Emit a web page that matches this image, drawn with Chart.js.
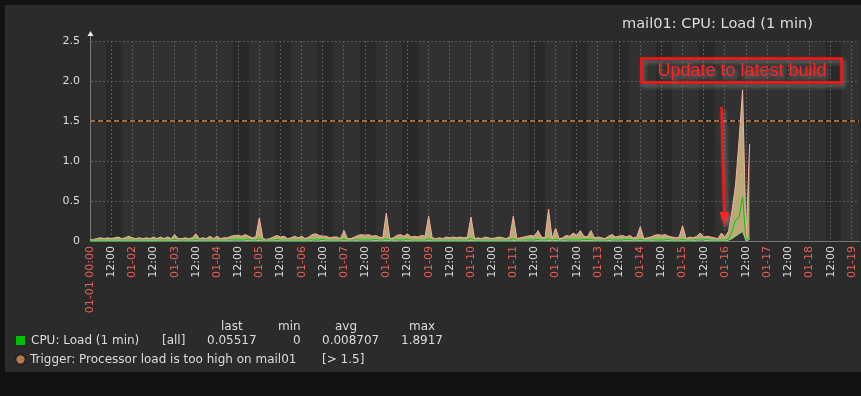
<!DOCTYPE html>
<html lang="en">
<head>
    <meta charset="UTF-8" />
    <title>mail01: CPU: Load (1 min)</title>
    <script src="https://cdn.jsdelivr.net/npm/chart.js"></script>
    <style>
        html, body { margin: 0; padding: 0; background: #111214; }
        #wrap { width: 861px; height: 396px; }
    </style>
</head>
<body>
    <div id="wrap"><canvas id="loadChart" width="861" height="396"></canvas></div>

    <script>
        // one sample every 2 hours starting 01-01 00:00
        const STEP_HOURS = 2;

        const maxLoad = [
            0.02,0.02,0.03,0.04,0.03,0.04,0.03,0.04,0.05,0.03,0.04,0.06,
            0.04,0.03,0.04,0.03,0.04,0.03,0.05,0.03,0.05,0.03,0.05,0.03,
            0.08,0.03,0.03,0.04,0.03,0.04,0.09,0.03,0.04,0.03,0.06,0.03,
            0.06,0.03,0.04,0.04,0.06,0.07,0.07,0.06,0.08,0.06,0.04,0.05,
            0.29,0.03,0.02,0.03,0.05,0.07,0.05,0.06,0.03,0.04,0.06,0.04,
            0.06,0.03,0.05,0.08,0.09,0.07,0.06,0.06,0.04,0.05,0.05,0.03,
            0.13,0.03,0.03,0.05,0.07,0.08,0.07,0.08,0.06,0.07,0.05,0.04,
            0.35,0.03,0.04,0.07,0.08,0.06,0.09,0.05,0.06,0.05,0.07,0.06,
            0.31,0.04,0.03,0.04,0.03,0.05,0.04,0.05,0.04,0.05,0.04,0.05,
            0.30,0.03,0.04,0.03,0.05,0.04,0.03,0.04,0.05,0.04,0.03,0.05,
            0.31,0.03,0.04,0.05,0.06,0.07,0.06,0.13,0.05,0.04,0.40,0.03,
            0.16,0.03,0.04,0.07,0.06,0.10,0.07,0.13,0.06,0.05,0.13,0.04,
            0.05,0.04,0.03,0.06,0.08,0.05,0.06,0.07,0.05,0.07,0.04,0.05,
            0.18,0.03,0.04,0.05,0.07,0.08,0.07,0.08,0.06,0.05,0.04,0.05,
            0.19,0.03,0.05,0.04,0.06,0.10,0.05,0.06,0.05,0.04,0.03,0.10,
            0.05,0.12,0.38,0.70,1.26,1.89,0.03,1.21
        ];

        const avgLoad = [
            0.01,0.01,0.01,0.01,0.01,0.01,0.01,0.01,0.01,0.01,0.01,0.01,
            0.01,0.01,0.01,0.01,0.01,0.01,0.01,0.01,0.01,0.01,0.01,0.01,
            0.02,0.01,0.01,0.01,0.01,0.01,0.02,0.01,0.01,0.01,0.01,0.01,
            0.01,0.01,0.01,0.01,0.02,0.02,0.02,0.02,0.02,0.02,0.01,0.01,
            0.03,0.01,0.01,0.01,0.01,0.02,0.01,0.01,0.01,0.01,0.01,0.01,
            0.01,0.01,0.01,0.02,0.02,0.02,0.02,0.01,0.01,0.01,0.01,0.01,
            0.02,0.01,0.01,0.01,0.02,0.02,0.02,0.02,0.02,0.02,0.01,0.01,
            0.03,0.01,0.01,0.02,0.02,0.02,0.02,0.01,0.01,0.01,0.01,0.01,
            0.03,0.01,0.01,0.01,0.01,0.01,0.01,0.01,0.01,0.01,0.01,0.01,
            0.03,0.01,0.01,0.01,0.01,0.01,0.01,0.01,0.01,0.01,0.01,0.01,
            0.03,0.01,0.01,0.01,0.02,0.02,0.02,0.02,0.01,0.01,0.03,0.01,
            0.02,0.01,0.01,0.02,0.02,0.02,0.02,0.02,0.02,0.02,0.02,0.01,
            0.01,0.01,0.01,0.02,0.02,0.02,0.02,0.02,0.02,0.02,0.01,0.01,
            0.02,0.01,0.01,0.01,0.02,0.02,0.02,0.02,0.02,0.01,0.01,0.01,
            0.02,0.01,0.01,0.01,0.02,0.02,0.02,0.02,0.01,0.01,0.01,0.01,
            0.01,0.02,0.12,0.26,0.30,0.55,0.01,0.03
        ];

        const minLoad = [
            0,0,0,0,0,0,0,0,0,0,0,0,
            0,0,0,0,0,0,0,0,0,0,0,0,
            0,0,0,0,0,0,0,0,0,0,0,0,
            0,0,0,0,0.01,0.01,0.01,0.01,0.01,0,0,0,
            0,0,0,0,0,0,0,0,0,0,0,0,
            0,0,0,0.01,0.01,0.01,0,0,0,0,0,0,
            0,0,0,0,0.01,0.01,0.01,0.01,0.01,0,0,0,
            0,0,0,0.01,0.01,0.01,0,0,0,0,0,0,
            0,0,0,0,0,0,0,0,0,0,0,0,
            0,0,0,0,0,0,0,0,0,0,0,0,
            0,0,0,0,0.01,0.01,0.01,0,0,0,0,0,
            0,0,0,0.01,0.01,0.01,0.01,0.01,0,0,0,0,
            0,0,0,0,0.01,0.01,0.01,0.01,0,0,0,0,
            0,0,0,0,0.01,0.01,0.01,0.01,0,0,0,0,
            0,0,0,0,0.01,0.01,0.01,0,0,0,0,0,
            0,0.01,0.03,0.06,0.09,0.12,0,0.02
        ];

        const triggerLevel = 1.5;
        const dayLabels = [
            '01-01 00:00','01-02','01-03','01-04','01-05','01-06','01-07','01-08','01-09','01-10',
            '01-11','01-12','01-13','01-14','01-15','01-16','01-17','01-18','01-19'
        ];
        // working days (9:00-18:00 shaded darker)
        const workDays = [1, 4, 5, 6, 7, 8, 11, 12, 13, 14, 15, 18];
        const workStart = 9, workEnd = 18;
        const xMaxHours = 436;

        const statHeaders = ['last', 'min', 'avg', 'max'];
        const statValues = ['0.05517', '0', '0.008707', '1.8917'];

        const toPoints = arr => arr.map((v, i) => ({ x: i * STEP_HOURS, y: v }));

        const FONT = '"DejaVu Sans", sans-serif';
        const TEXT = '#dcdcdc';

        const panelPlugin = {
            id: 'panel',
            beforeDraw(chart) {
                const { ctx, chartArea: a } = chart;
                const x = chart.scales.x;
                ctx.save();
                ctx.fillStyle = '#111214';
                ctx.fillRect(0, 0, chart.width, chart.height);
                ctx.fillStyle = '#2b2b2b';
                ctx.fillRect(5, 5, chart.width - 5, 367);
                ctx.fillStyle = '#313131';
                ctx.fillRect(a.left, a.top, a.right - a.left, a.bottom - a.top);
                ctx.fillStyle = '#292929';
                workDays.forEach(d => {
                    const x0 = x.getPixelForValue((d - 1) * 24 + workStart);
                    const x1 = Math.min(x.getPixelForValue((d - 1) * 24 + workEnd), a.right);
                    if (x0 < a.right) ctx.fillRect(x0, a.top, x1 - x0, a.bottom - a.top);
                });
                ctx.restore();
            }
        };

        const decorPlugin = {
            id: 'decor',
            afterDraw(chart) {
                const { ctx, chartArea: a } = chart;
                ctx.save();

                // y axis arrow
                ctx.strokeStyle = '#7a7a7a';
                ctx.lineWidth = 1;
                ctx.beginPath();
                ctx.moveTo(a.left + 0.5, 35);
                ctx.lineTo(a.left + 0.5, a.top);
                ctx.stroke();
                ctx.fillStyle = '#e8e8e8';
                ctx.beginPath();
                ctx.moveTo(a.left + 0.5, 31);
                ctx.lineTo(a.left + 3.5, 36);
                ctx.lineTo(a.left - 2.5, 36);
                ctx.closePath();
                ctx.fill();

                // title
                ctx.fillStyle = TEXT;
                ctx.font = '14.6px ' + FONT;
                ctx.textAlign = 'center';
                ctx.textBaseline = 'middle';
                ctx.fillText('mail01: CPU: Load (1 min)', 717.5, 24);

                // legend
                ctx.font = '12px ' + FONT;
                ctx.textAlign = 'left';
                const headX = [221, 278, 335, 409];
                statHeaders.forEach((h, i) => ctx.fillText(h, headX[i], 327));
                ctx.fillStyle = '#00c000';
                ctx.fillRect(16, 336, 9, 9);
                ctx.fillStyle = TEXT;
                ctx.fillText('CPU: Load (1 min)', 31, 341);
                ctx.fillText('[all]', 162, 341);
                const valX = [207, 293, 322, 401];
                statValues.forEach((v, i) => ctx.fillText(v, valX[i], 341));

                ctx.beginPath();
                ctx.arc(20.5, 359.5, 4.8, 0, Math.PI * 2);
                ctx.fillStyle = '#b07a50';
                ctx.fill();
                ctx.strokeStyle = '#1a1a1a';
                ctx.lineWidth = 1.2;
                ctx.stroke();
                ctx.fillStyle = TEXT;
                ctx.fillText('Trigger: Processor load is too high on mail01', 30, 360);
                ctx.fillText('[> ' + triggerLevel + ']', 322, 360);

                // annotation box + arrow
                ctx.shadowColor = 'rgba(150,150,150,0.75)';
                ctx.shadowBlur = 4;
                ctx.shadowOffsetX = 2;
                ctx.shadowOffsetY = 3;
                ctx.strokeStyle = '#ff1414';
                ctx.lineWidth = 2.5;
                ctx.strokeRect(641.5, 58.5, 200, 24);
                ctx.fillStyle = '#ff2323';
                ctx.font = '18px "Liberation Sans", Arial, sans-serif';
                ctx.textAlign = 'center';
                ctx.fillText('Update to latest build', 742, 71);
                ctx.beginPath();
                ctx.moveTo(721.5, 107);
                ctx.lineTo(724.3, 214);
                ctx.stroke();
                ctx.beginPath();
                ctx.moveTo(719.5, 212);
                ctx.lineTo(729, 212);
                ctx.lineTo(724.5, 226);
                ctx.closePath();
                ctx.fill();

                ctx.restore();
            }
        };

        const lineCommon = { pointRadius: 0, borderWidth: 1, tension: 0 };

        new Chart(document.getElementById('loadChart'), {
            type: 'line',
            data: {
                datasets: [
                    { ...lineCommon, label: 'min', data: toPoints(minLoad), borderColor: '#7fe07f', fill: false },
                    { ...lineCommon, label: 'avg', data: toPoints(avgLoad), borderColor: '#00c800', fill: false },
                    { ...lineCommon, label: 'max', data: toPoints(maxLoad), borderColor: '#f4b0a0',
                      backgroundColor: '#b9aa78', fill: '-2' },
                    { ...lineCommon, label: 'trigger', data: [{ x: 0, y: triggerLevel }, { x: xMaxHours, y: triggerLevel }],
                      borderColor: '#d08650', borderDash: [5, 3], borderWidth: 1.5, fill: false },
                    { ...lineCommon, label: 'trigger-bg', data: [{ x: 0, y: triggerLevel }, { x: xMaxHours, y: triggerLevel }],
                      borderColor: '#111111', borderWidth: 1.5, fill: false }
                ]
            },
            options: {
                responsive: false,
                animation: false,
                devicePixelRatio: 1,
                layout: { padding: { top: 41, right: 2, left: 0, bottom: 0 } },
                plugins: { legend: { display: false }, tooltip: { enabled: false } },
                scales: {
                    x: {
                        type: 'linear',
                        min: 0,
                        max: xMaxHours,
                        afterFit: s => { s.height = 155; s.paddingLeft = 0; s.paddingRight = 0; },
                        grid: { color: '#5a5a5a', drawTicks: false },
                        border: { color: '#7a7a7a', dash: [2, 2] },
                        ticks: {
                            stepSize: 12,
                            includeBounds: false,
                            autoSkip: false,
                            maxRotation: 90,
                            minRotation: 90,
                            padding: 5,
                            font: { family: 'DejaVu Sans', size: 11 },
                            color: c => c.tick.value % 24 === 0 ? '#e8605a' : TEXT,
                            callback: v => v % 24 === 0 ? dayLabels[v / 24] : '12:00'
                        }
                    },
                    y: {
                        min: 0,
                        max: 2.5,
                        afterFit: s => { s.width = 90; },
                        grid: { color: '#5a5a5a', drawTicks: false },
                        border: { color: '#7a7a7a', dash: [2, 2] },
                        ticks: {
                            stepSize: 0.5,
                            padding: 10,
                            font: { family: 'DejaVu Sans', size: 11 },
                            color: TEXT,
                            callback: v => v === 0 ? '0' : v.toFixed(1)
                        }
                    }
                }
            },
            plugins: [panelPlugin, decorPlugin]
        });
    </script>
</body>
</html>
